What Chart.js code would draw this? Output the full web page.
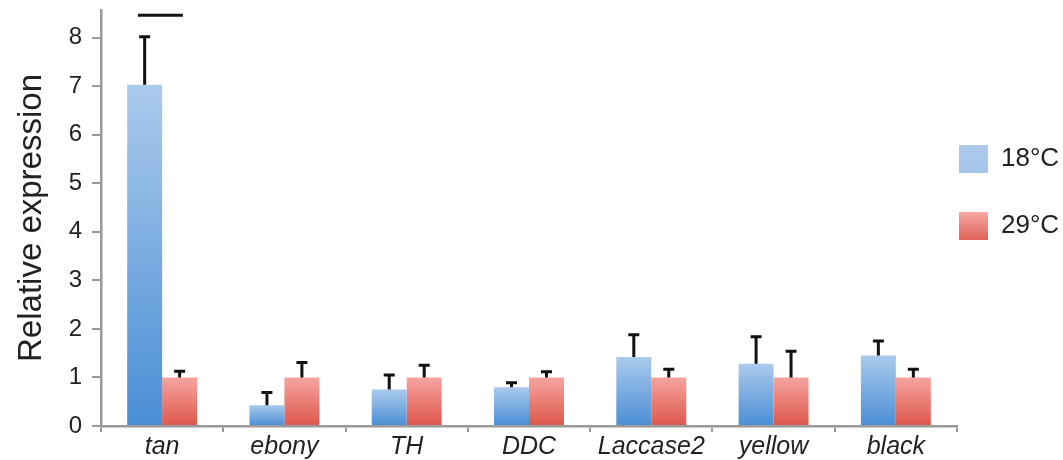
<!DOCTYPE html>
<html>
<head>
<meta charset="utf-8">
<script src="https://cdn.jsdelivr.net/npm/chart.js@4.4.0/dist/chart.umd.min.js"></script>
<style>
  html, body { margin: 0; padding: 0; background: #fff; }
  #wrap { position: relative; width: 1063px; height: 460px; }
</style>
</head>
<body>
<div id="wrap"><canvas id="myChart"></canvas></div>
<script>
// values
var genes = ['tan', 'ebony', 'TH', 'DDC', 'Laccase2', 'yellow', 'black'];
var seriesNames = ['18°C', '29°C'];
var expr18 = [7.03, 0.43, 0.75, 0.80, 1.42, 1.28, 1.45];
var expr29 = [1.0, 1.0, 1.0, 1.0, 1.0, 1.0, 1.0];
var err18 = [0.99, 0.26, 0.30, 0.09, 0.46, 0.56, 0.30];
var err29 = [0.13, 0.31, 0.25, 0.12, 0.17, 0.54, 0.17];
var yTicks = [0, 1, 2, 3, 4, 5, 6, 7, 8];
var sigBarValue = 8.46; // bracket line above tan

// colours (top -> bottom of each bar)
var blueStops = ['#abcaec', '#4a8ed5'];
var redStops = ['#f6a4a0', '#de574c'];
var legendStops = [['#aecbec', '#a6c5e9'], ['#f6a8a4', '#e0645a']];

Chart.defaults.font.family = '"Liberation Sans", Arial, Helvetica, sans-serif';

// each bar gets its own vertical gradient, light at top, dark at base
function barFill(stops) {
    return function(c) {
        var chart = c.chart;
        var y = chart.scales.y;
        if (c.type !== 'data' || !y) return stops[0];
        var top = y.getPixelForValue(c.raw);
        var base = y.getPixelForValue(0);
        if (!isFinite(top) || top === base) return stops[0];
        var g = chart.ctx.createLinearGradient(0, top, 0, base);
        g.addColorStop(0, stops[0]);
        g.addColorStop(1, stops[1]);
        return g;
    };
}

// upward error bars + the line over tan
var errorBars = {
    id: 'errorBars',
    afterDatasetsDraw: function(chart) {
        var ctx = chart.ctx, y = chart.scales.y, x = chart.scales.x;
        var errs = [err18, err29];
        ctx.save();
        ctx.strokeStyle = '#111';
        ctx.lineWidth = 3;
        chart.data.datasets.forEach(function(ds, di) {
            chart.getDatasetMeta(di).data.forEach(function(bar, i) {
                var top = y.getPixelForValue(ds.data[i] + errs[di][i]);
                ctx.beginPath();
                ctx.moveTo(bar.x, bar.y);
                ctx.lineTo(bar.x, top);
                ctx.moveTo(bar.x - 5.5, top);
                ctx.lineTo(bar.x + 5.5, top);
                ctx.stroke();
            });
        });
        var cx = x.getPixelForValue(0);
        var w = x.width / genes.length;
        var sy = y.getPixelForValue(sigBarValue);
        ctx.beginPath();
        ctx.moveTo(cx - 0.198 * w, sy);
        ctx.lineTo(cx + 0.17 * w, sy);
        ctx.stroke();
        ctx.restore();
    }
};

// legend sits just right of the plot; its item padding is only wanted vertically
var legendPlace = {
    id: 'legendPlace',
    beforeDraw: function(chart) {
        var lg = chart.legend;
        if (!lg || !lg.legendItems) return;
        lg.left = chart.chartArea.right + 2 - lg.options.labels.padding;
        var bh = lg.options.labels.boxHeight;
        lg.legendItems.forEach(function(item, i) {
            var hb = lg.legendHitBoxes[i];
            if (!hb) return;
            var g = chart.ctx.createLinearGradient(0, hb.top, 0, hb.top + bh);
            g.addColorStop(0, legendStops[i][0]);
            g.addColorStop(1, legendStops[i][1]);
            item.fillStyle = g;
            item.lineWidth = 0;
        });
    }
};

var ctx = document.getElementById('myChart').getContext('2d');
var chart = new Chart(ctx, {
    type: 'bar',
    data: {
        labels: genes,
        datasets: [{
            label: seriesNames[0],
            data: expr18,
            backgroundColor: barFill(blueStops),
            borderWidth: 0,
            categoryPercentage: 0.572,
            barPercentage: 1
        }, {
            label: seriesNames[1],
            data: expr29,
            backgroundColor: barFill(redStops),
            borderWidth: 0,
            categoryPercentage: 0.572,
            barPercentage: 1
        }]
    },
    options: {
        responsive: true,
        maintainAspectRatio: false,
        animation: false,
        layout: { padding: { top: 10, left: 0, right: 0, bottom: 0 } },
        scales: {
            x: {
                afterFit: function(s) { s.height = 34; s.paddingLeft = 0; s.paddingRight = 0; },
                border: { color: '#9a9a9a', width: 2.5 },
                grid: { offset: true, drawOnChartArea: false, tickLength: 6, color: '#9a9a9a', lineWidth: 2 },
                ticks: { color: '#222', padding: 0, font: { size: 25, style: 'italic' } }
            },
            y: {
                min: 0,
                max: 8.57,
                afterFit: function(s) { s.width = 101; s.paddingTop = 0; s.paddingBottom = 0; },
                afterBuildTicks: function(s) { s.ticks = yTicks.map(function(v) { return { value: v }; }); },
                border: { color: '#9a9a9a', width: 2.5 },
                grid: { drawOnChartArea: false, tickLength: 9, color: '#9a9a9a', lineWidth: 2 },
                ticks: { color: '#222', padding: 10, font: { size: 24 } },
                title: {
                    display: true,
                    text: 'Relative expression',
                    color: '#222',
                    font: { size: 33 },
                    padding: { top: 12, bottom: 0 }
                }
            }
        },
        plugins: {
            tooltip: { enabled: false },
            legend: {
                position: 'right',
                align: 'start',
                maxWidth: 106,
                title: { display: true, text: ' ', font: { size: 16, lineHeight: 1 }, padding: { top: 0, bottom: 80 } },
                labels: {
                    boxWidth: 29,
                    boxHeight: 28,
                    padding: 39,
                    color: '#222',
                    font: { size: 26 }
                }
            }
        }
    },
    plugins: [errorBars, legendPlace]
});
</script>
</body>
</html>
